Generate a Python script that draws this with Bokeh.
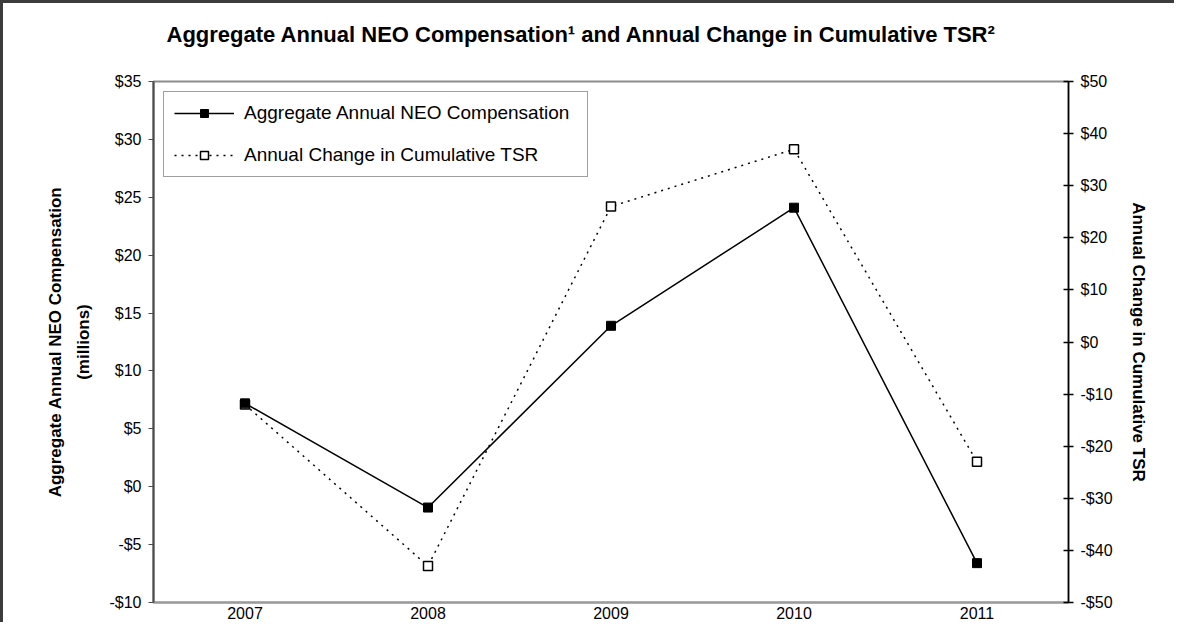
from bokeh.plotting import figure
from bokeh.models import Range1d, LinearAxis, FixedTicker, FactorRange, Title
from bokeh.embed import file_html
from bokeh.resources import INLINE

# ---- data ----
years = ["2007", "2008", "2009", "2010", "2011"]
neo_comp = [7.2, -1.8, 13.9, 24.1, -6.6]          # $ millions (left axis)
tsr_change = [-12, -43, 26, 37, -23]              # $ (right axis)

left_ticks = [-10, -5, 0, 5, 10, 15, 20, 25, 30, 35]
left_tick_labels = ["-$10", "-$5", "$0", "$5", "$10", "$15", "$20", "$25", "$30", "$35"]
right_ticks = [-50, -40, -30, -20, -10, 0, 10, 20, 30, 40, 50]
right_tick_labels = ["-$50", "-$40", "-$30", "-$20", "-$10", "$0", "$10", "$20", "$30", "$40", "$50"]

title_text = "Aggregate Annual NEO Compensation\u00b9 and Annual Change in Cumulative TSR\u00b2"
neo_name = "Aggregate Annual NEO Compensation"
tsr_name = "Annual Change in Cumulative TSR"
left_label = "Aggregate Annual NEO Compensation\n(millions)"
right_label = "Annual Change in Cumulative TSR"

FONT = "Liberation Sans"

p = figure(
    width=1171, height=619,
    x_range=FactorRange(*years, range_padding=0),
    y_range=Range1d(left_ticks[0], left_ticks[-1]),
    output_backend="svg", toolbar_location=None,
    min_border_left=150, min_border_right=109,
    min_border_top=60, min_border_bottom=23,
    background_fill_color="white", border_fill_color="white",
)
p.styles = {"border-left": "3px solid #3c3c3c", "border-top": "3px solid #3c3c3c",
            "box-sizing": "content-box"}
p.outline_line_color = "#8c8c8c"
p.outline_line_width = 2
p.xgrid.visible = False
p.ygrid.visible = False

p.title.text = title_text
p.title.text_font = FONT
p.title.text_font_size = "22px"
p.title.text_font_style = "bold"
p.title.text_color = "black"
p.title.align = "left"
p.title.offset = 13
p.title.standoff = 32

# small spacer between title and plot area
spacer = Title(text=" ", text_font_size="4px", standoff=12)
p.add_layout(spacer, "above")

p.extra_y_ranges = {"tsr": Range1d(right_ticks[0], right_ticks[-1])}

# x axis
xa = p.xaxis[0]
xa.axis_line_color = "#9a9a9a"
xa.axis_line_width = 2
xa.major_tick_line_color = None
xa.major_tick_in = 0
xa.major_tick_out = 0
xa.minor_tick_line_color = None
xa.major_label_text_font = FONT
xa.major_label_text_font_size = "16px"
xa.major_label_text_color = "black"
xa.major_label_standoff = 4

# left axis
ya = p.yaxis[0]
ya.ticker = FixedTicker(ticks=left_ticks)
ya.major_label_overrides = {t: l for t, l in zip(left_ticks, left_tick_labels)}
ya.axis_line_color = "#4a4a4a"
ya.axis_line_width = 2
ya.major_tick_line_color = "#4a4a4a"
ya.major_tick_in = 0
ya.major_tick_out = 5
ya.minor_tick_line_color = None
ya.major_label_text_font = FONT
ya.major_label_text_font_size = "16px"
ya.major_label_text_color = "black"
ya.major_label_standoff = 7
ya.axis_label = left_label
ya.axis_label_text_font = FONT
ya.axis_label_text_font_size = "17px"
ya.axis_label_text_font_style = "bold"
ya.axis_label_text_color = "black"
ya.axis_label_text_line_height = 1.5
ya.axis_label_standoff = 13

# right axis
ra = LinearAxis(y_range_name="tsr")
ra.ticker = FixedTicker(ticks=right_ticks)
ra.major_label_overrides = {t: l for t, l in zip(right_ticks, right_tick_labels)}
ra.axis_line_color = "black"
ra.axis_line_width = 1.5
ra.major_tick_line_color = "black"
ra.major_tick_line_width = 1.5
ra.major_tick_in = 5
ra.major_tick_out = 5
ra.minor_tick_line_color = None
ra.major_label_text_font = FONT
ra.major_label_text_font_size = "16px"
ra.major_label_text_color = "black"
ra.major_label_standoff = 7
ra.axis_label = right_label
ra.axis_label_text_font = FONT
ra.axis_label_text_font_size = "17px"
ra.axis_label_text_font_style = "bold"
ra.axis_label_text_color = "black"
ra.axis_label_standoff = 13
p.add_layout(ra, "right")

# TSR series (drawn first, beneath)
p.line(years, tsr_change, y_range_name="tsr", line_color="black", line_width=1.5,
       line_dash="2 5", legend_label=tsr_name)
p.scatter(years, tsr_change, y_range_name="tsr", marker="square", size=9,
          fill_color="white", line_color="black", line_width=1.5, legend_label=tsr_name)

# NEO compensation series
p.line(years, neo_comp, line_color="black", line_width=1.5, legend_label=neo_name)
p.scatter(years, neo_comp, marker="square", size=9, fill_color="black",
          line_color="black", legend_label=neo_name)

lg = p.legend[0]
lg.items = [lg.items[1], lg.items[0]]
lg.location = "top_left"
lg.margin = 10
lg.padding = 10
lg.spacing = 20
lg.glyph_width = 60
lg.glyph_height = 20
lg.label_height = 20
lg.label_width = 333
lg.label_standoff = 10
lg.label_text_font = FONT
lg.label_text_font_size = "19px"
lg.label_text_color = "black"
lg.border_line_color = "#404040"
lg.border_line_width = 1
lg.background_fill_color = "white"
lg.background_fill_alpha = 1

open("out.html", "w").write(file_html(p, INLINE))
